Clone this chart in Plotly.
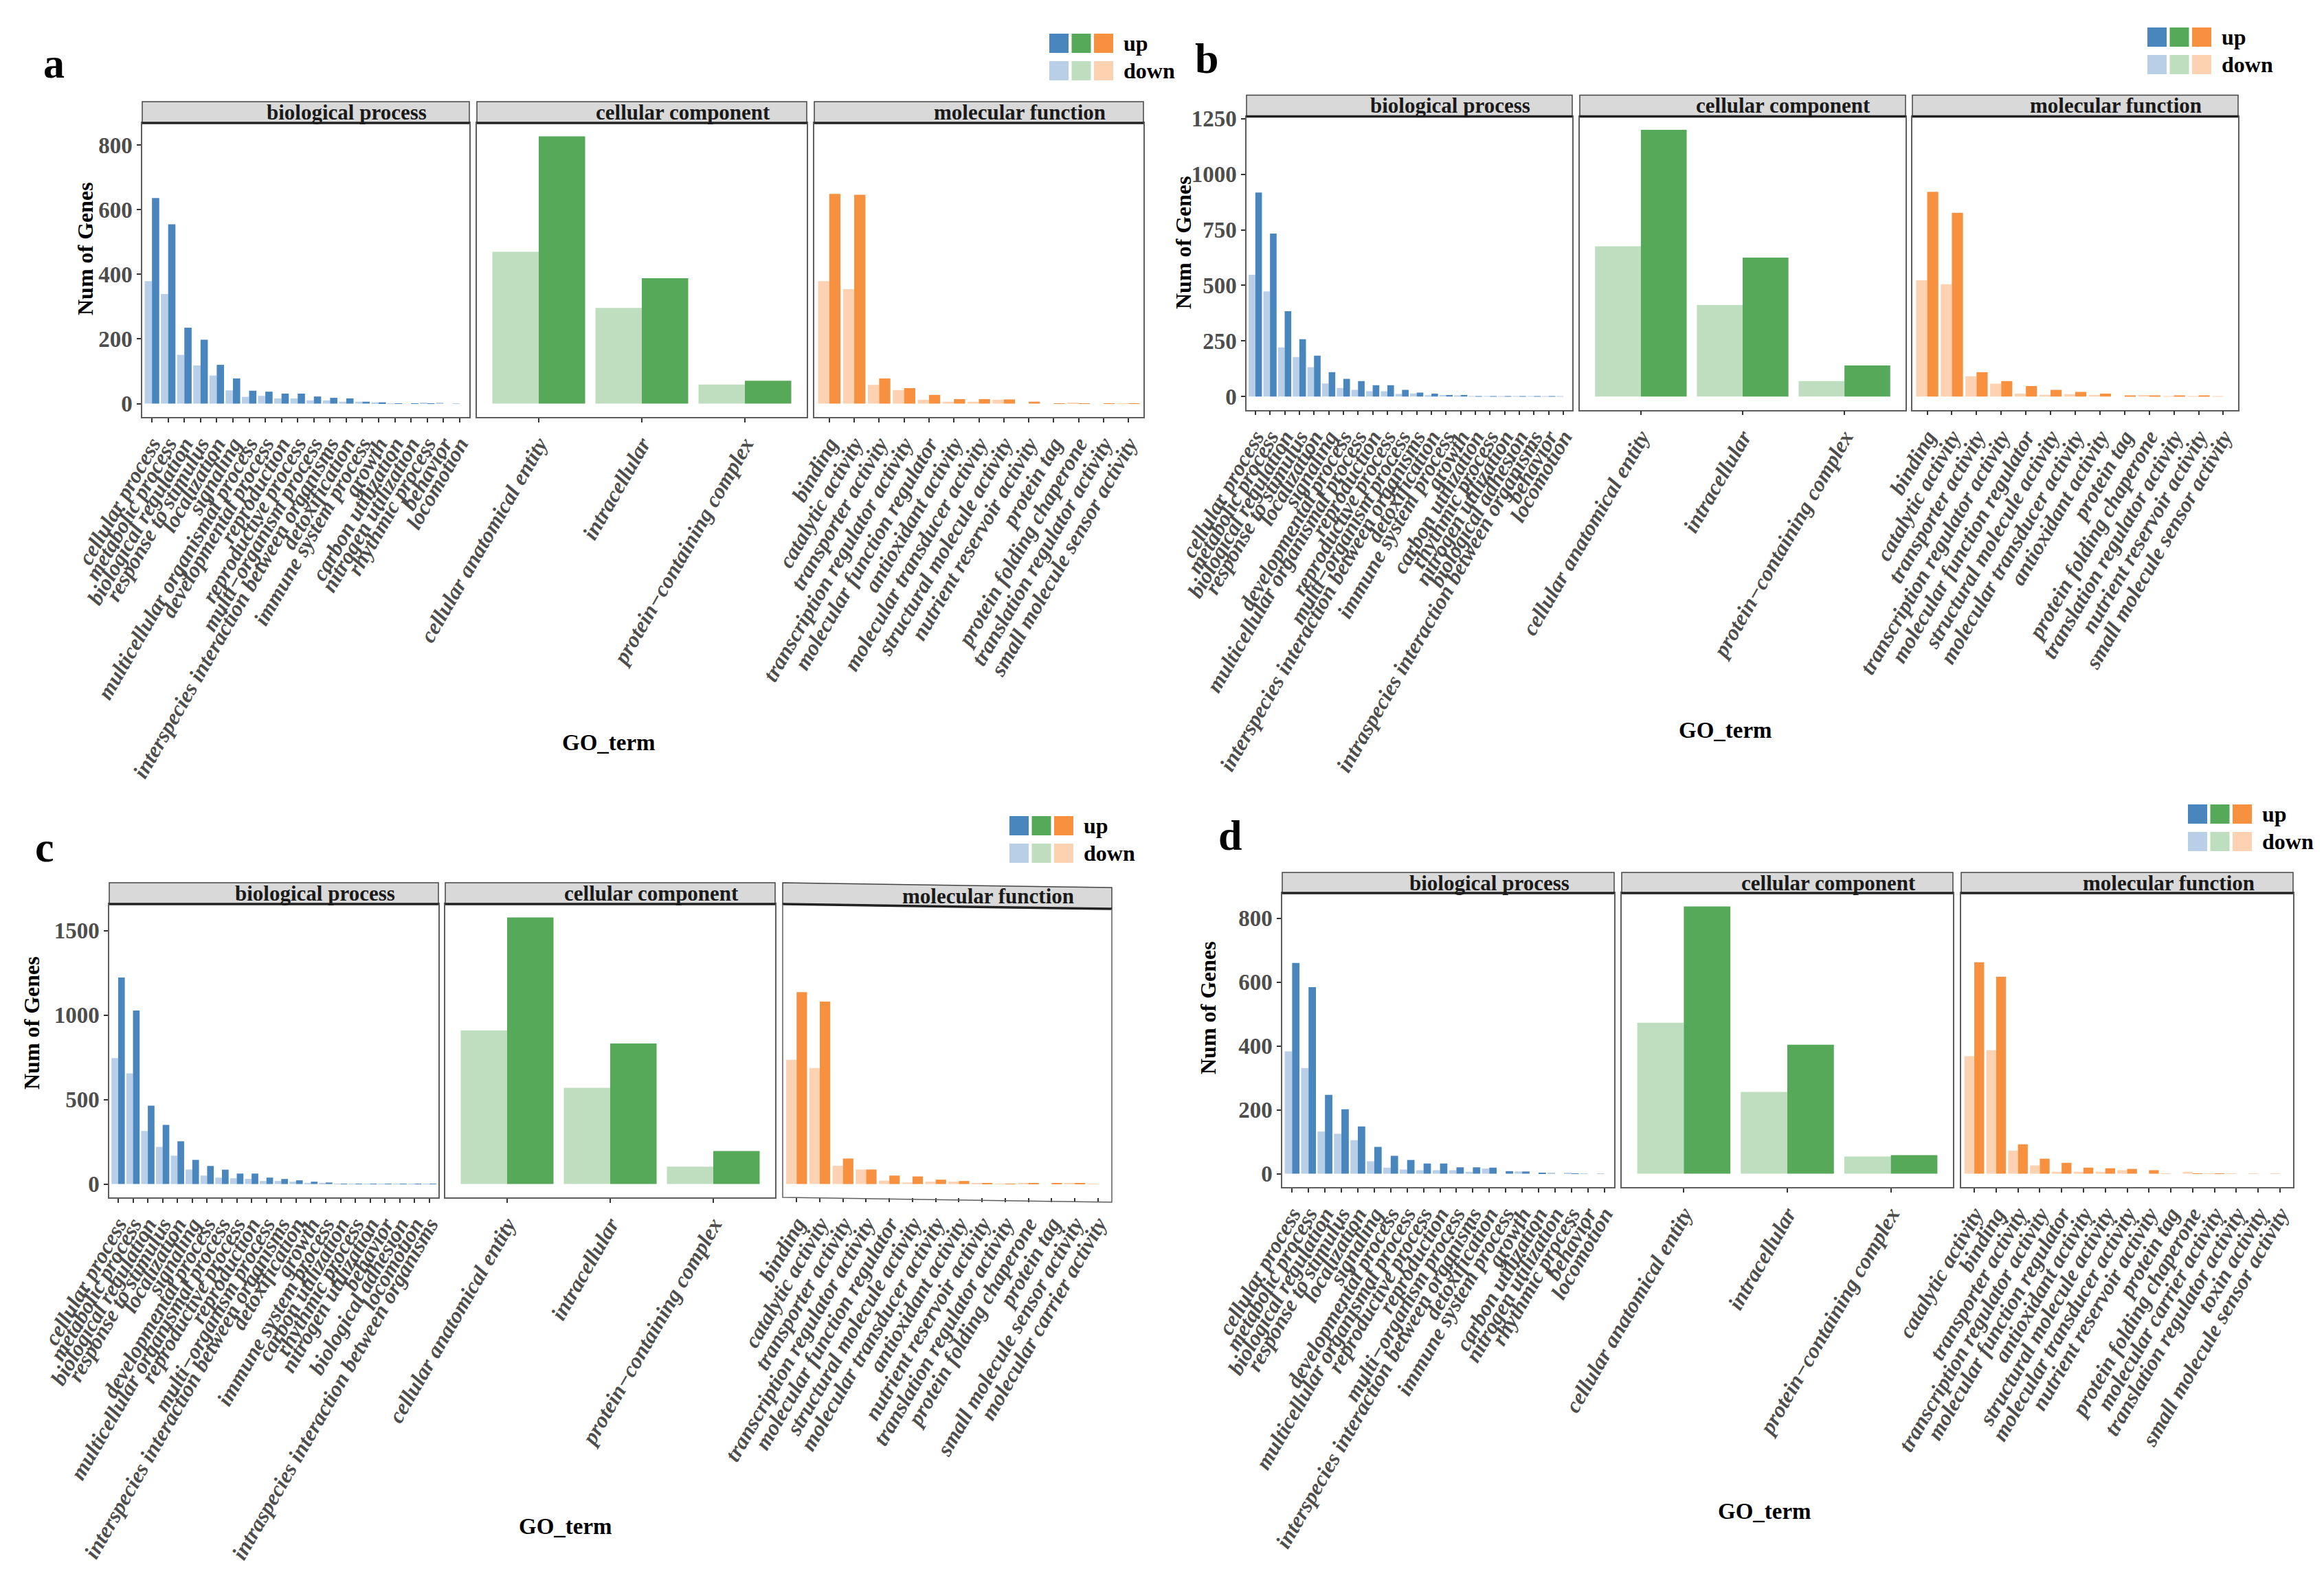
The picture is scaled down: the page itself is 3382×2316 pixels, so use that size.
import plotly.graph_objects as go

W, H = 3382, 2316

# ---------------- data ----------------
CC_TERMS = ["cellular anatomical entity", "intracellular", "protein\u2212containing complex"]

A_BP_TERMS = ["cellular process", "metabolic process", "biological regulation", "response to stimulus",
              "localization", "signaling", "multicellular organismal process", "developmental process",
              "reproduction", "reproductive process", "multi\u2212organism process",
              "interspecies interaction between organisms", "detoxification", "immune system process",
              "growth", "carbon utilization", "nitrogen utilization", "rhythmic process", "behavior", "locomotion"]
A_BP_DOWN = [379, 339, 151, 118, 87, 41, 21, 24, 16, 16, 10, 10, 6, 6, 4, 1, 0, 2, 2, 1]
A_BP_UP = [636, 555, 235, 198, 120, 78, 40, 37, 31, 31, 22, 18, 16, 6, 4, 1, 1, 1, 0, 0]
A_CC_DOWN = [470, 296, 59]
A_CC_UP = [827, 388, 71]
A_MF_TERMS = ["binding", "catalytic activity", "transporter activity", "transcription regulator activity",
              "molecular function regulator", "antioxidant activity", "molecular transducer activity",
              "structural molecule activity", "nutrient reservoir activity", "protein tag",
              "protein folding chaperone", "translation regulator activity", "small molecule sensor activity"]
A_MF_DOWN = [379, 354, 58, 42, 12, 6, 6, 12, 0, 0, 3, 0, 1]
A_MF_UP = [649, 646, 78, 48, 27, 14, 14, 13, 6, 1, 1, 1, 1]

B_BP_TERMS = ["cellular process", "metabolic process", "biological regulation", "response to stimulus",
              "localization", "signaling", "developmental process", "multicellular organismal process",
              "reproduction", "reproductive process", "multi\u2212organism process",
              "interspecies interaction between organisms", "detoxification", "immune system process",
              "growth", "carbon utilization", "rhythmic process", "nitrogen utilization", "biological adhesion",
              "intraspecies interaction between organisms", "behavior", "locomotion"]
B_BP_DOWN = [548, 473, 221, 178, 132, 59, 39, 30, 24, 24, 12, 14, 6, 7, 4, 2, 2, 2, 1, 1, 1, 1]
B_BP_UP = [918, 733, 384, 258, 184, 110, 80, 70, 51, 51, 30, 18, 13, 7, 7, 2, 2, 2, 2, 1, 1, 0]
B_CC_DOWN = [676, 412, 70]
B_CC_UP = [1200, 625, 140]
B_MF_TERMS = ["binding", "catalytic activity", "transporter activity", "transcription regulator activity",
              "molecular function regulator", "structural molecule activity", "molecular transducer activity",
              "antioxidant activity", "protein tag", "protein folding chaperone", "translation regulator activity",
              "nutrient reservoir activity", "small molecule sensor activity"]
B_MF_DOWN = [523, 505, 91, 58, 13, 8, 11, 7, 0, 7, 2, 2, 2]
B_MF_UP = [921, 827, 110, 70, 47, 30, 21, 13, 5, 3, 3, 3, 0]

C_BP_TERMS = ["cellular process", "metabolic process", "biological regulation", "response to stimulus",
              "localization", "signaling", "developmental process", "multicellular organismal process",
              "reproductive process", "reproduction", "multi\u2212organism process",
              "interspecies interaction between organisms", "detoxification", "growth", "immune system process",
              "carbon utilization", "rhythmic process", "nitrogen utilization", "behavior", "biological adhesion",
              "locomotion", "intraspecies interaction between organisms"]
C_BP_DOWN = [745, 655, 314, 220, 168, 86, 50, 38, 34, 31, 18, 18, 14, 7, 7, 2, 2, 1, 1, 1, 1, 1]
C_BP_UP = [1222, 1027, 464, 350, 253, 143, 107, 85, 62, 62, 38, 30, 22, 14, 9, 2, 2, 2, 1, 1, 1, 1]
C_CC_DOWN = [909, 569, 103]
C_CC_UP = [1578, 832, 196]
C_MF_TERMS = ["binding", "catalytic activity", "transporter activity", "transcription regulator activity",
              "molecular function regulator", "structural molecule activity", "molecular transducer activity",
              "antioxidant activity", "nutrient reservoir activity", "translation regulator activity",
              "protein folding chaperone", "protein tag", "small molecule sensor activity",
              "molecular carrier activity"]
C_MF_DOWN = [735, 686, 108, 86, 20, 9, 14, 14, 3, 1, 5, 0, 3, 1]
C_MF_UP = [1136, 1080, 151, 86, 50, 45, 26, 18, 5, 2, 3, 3, 3, 0]

D_BP_TERMS = ["cellular process", "metabolic process", "biological regulation", "response to stimulus",
              "localization", "signaling", "developmental process", "multicellular organismal process",
              "reproductive process", "reproduction", "multi\u2212organism process",
              "interspecies interaction between organisms", "detoxification", "immune system process",
              "growth", "carbon utilization", "nitrogen utilization", "rhythmic process", "behavior", "locomotion"]
D_BP_DOWN = [383, 331, 132, 125, 105, 39, 19, 13, 11, 11, 11, 6, 16, 0, 7, 0, 2, 2, 1, 1]
D_BP_UP = [660, 584, 247, 202, 148, 84, 56, 43, 32, 32, 20, 20, 19, 8, 7, 3, 0, 1, 0, 0]
D_CC_DOWN = [473, 256, 54]
D_CC_UP = [837, 404, 58]
D_MF_TERMS = ["catalytic activity", "binding", "transporter activity", "transcription regulator activity",
              "molecular function regulator", "antioxidant activity", "structural molecule activity",
              "molecular transducer activity", "nutrient reservoir activity", "protein tag",
              "protein folding chaperone", "molecular carrier activity", "translation regulator activity",
              "toxin activity", "small molecule sensor activity"]
D_MF_DOWN = [368, 387, 72, 26, 6, 6, 6, 11, 0, 1, 6, 1, 1, 1, 1]
D_MF_UP = [662, 617, 92, 47, 34, 19, 17, 15, 11, 0, 1, 1, 0, 0, 0]

A_YTICKS = [0, 200, 400, 600, 800]
B_YTICKS = [0, 250, 500, 750, 1000, 1250]
C_YTICKS = [0, 500, 1000, 1500]
D_YTICKS = [0, 200, 400, 600, 800]

FACETS = ["biological process", "cellular component", "molecular function"]
LEGEND_LABELS = ["up", "down"]

# ---------------- style ----------------
UP_COLORS = ["#4A86BE", "#57A95A", "#F7903F"]
DOWN_COLORS = ["#B9CFE7", "#BFDDBF", "#FCD2B2"]
SERIF = "Liberation Serif"
GREY30 = "#4D4D4D"
BORDER = "#5E5E5E"

PANELS = [
    dict(letter="a", data=[(A_BP_TERMS, A_BP_DOWN, A_BP_UP), (CC_TERMS, A_CC_DOWN, A_CC_UP),
                           (A_MF_TERMS, A_MF_DOWN, A_MF_UP)], yticks=A_YTICKS,
         cols=[(207, 683), (694, 1174), (1185, 1664)], strip=148, top=179, bottom=607,
         ytitle=(124, 362), goterm=(886, 1081), lpos=(78, 92), legend=(1527, 49), skew=None),
    dict(letter="b", data=[(B_BP_TERMS, B_BP_DOWN, B_BP_UP), (CC_TERMS, B_CC_DOWN, B_CC_UP),
                           (B_MF_TERMS, B_MF_DOWN, B_MF_UP)], yticks=B_YTICKS,
         cols=[(1814, 2288), (2299, 2773), (2783, 3257)], strip=138.5, top=169.5, bottom=596.7,
         ytitle=(1722, 353), goterm=(2511, 1063), lpos=(1756, 85), legend=(3125, 40), skew=None),
    dict(letter="c", data=[(C_BP_TERMS, C_BP_DOWN, C_BP_UP), (CC_TERMS, C_CC_DOWN, C_CC_UP),
                           (C_MF_TERMS, C_MF_DOWN, C_MF_UP)], yticks=C_YTICKS,
         cols=[(159, 638), (648, 1128), (1139, 1618)], strip=1285, top=1316, bottom=1743,
         ytitle=(46, 1489), goterm=(823, 2222), lpos=(65, 1233), legend=(1469, 1188), skew=(2, 7)),
    dict(letter="d", data=[(D_BP_TERMS, D_BP_DOWN, D_BP_UP), (CC_TERMS, D_CC_DOWN, D_CC_UP),
                           (D_MF_TERMS, D_MF_DOWN, D_MF_UP)], yticks=D_YTICKS,
         cols=[(1866, 2349), (2360, 2842), (2854, 3337)], strip=1270, top=1300, bottom=1728,
         ytitle=(1758, 1467), goterm=(2568, 2200), lpos=(1790, 1216), legend=(3184, 1171), skew=None),
]


def px(x):
    return x / W


def py(y):
    return 1 - y / H


def pt(x, y):
    return f"{px(x):.6f},{py(y):.6f}"


fig = go.Figure()
layout = dict(width=W, height=H, margin=dict(l=0, r=0, t=0, b=0, autoexpand=False), paper_bgcolor="white",
              plot_bgcolor="white", barmode="group", bargap=0.1, bargroupgap=0, showlegend=False,
              template="none")
shapes = []
annotations = []

k = 0
for p in PANELS:
    ymax = max(max(d[1] + d[2]) for d in p["data"])
    yr = [-0.05 * ymax, 1.05 * ymax]
    for f, (terms, down, up) in enumerate(p["data"]):
        k += 1
        xa = "x" if k == 1 else f"x{k}"
        ya = "y" if k == 1 else f"y{k}"
        fig.add_trace(go.Bar(x=terms, y=down, marker=dict(color=DOWN_COLORS[f], line=dict(width=0)),
                             xaxis=xa, yaxis=ya, name="down"))
        fig.add_trace(go.Bar(x=terms, y=up, marker=dict(color=UP_COLORS[f], line=dict(width=0)),
                             xaxis=xa, yaxis=ya, name="up"))
        x0, x1 = p["cols"][f]
        n = len(terms)
        skewed = p["skew"] is not None and p["skew"][0] == f
        sk = p["skew"][1] if skewed else 0
        layout["xaxis" if k == 1 else f"xaxis{k}"] = dict(
            domain=[px(x0), px(x1)], anchor=ya, type="category", range=[-0.6, n - 0.4],
            tickmode="array", tickvals=terms, ticktext=terms, automargin=False,
            tickangle=-60, ticks="outside", ticklen=6, tickwidth=1.5, tickcolor="#333333",
            showline=not skewed, mirror=True, linecolor=BORDER, linewidth=1.5, showgrid=False,
            zeroline=False, fixedrange=True,
            tickfont=dict(family=SERIF, size=32, color=GREY30, weight="bold", style="italic"))
        yd = dict(domain=[py(p["bottom"]), py(p["top"])], anchor=xa, range=yr, showgrid=False,
                  zeroline=False, showline=not skewed, mirror=True, linecolor=BORDER, linewidth=1.5,
                  fixedrange=True, automargin=False)
        if f == 0:
            yd.update(tickmode="array", tickvals=p["yticks"], ticks="outside", ticklen=6, tickwidth=1.5,
                      tickcolor="#333333",
                      tickfont=dict(family=SERIF, size=33, color=GREY30, weight="bold"))
        else:
            yd.update(showticklabels=False, ticks="")
        layout["yaxis" if k == 1 else f"yaxis{k}"] = yd

        st, tp, bt = p["strip"], p["top"], p["bottom"]
        if skewed:
            # slanted strip / frame, as rendered in the reference
            shapes.append(dict(type="path", xref="paper", yref="paper",
                               path=f"M{pt(x0, st)} L{pt(x1, st + sk)} L{pt(x1, tp + sk)} L{pt(x0, tp)} Z",
                               fillcolor="#D9D9D9", line=dict(color="#444444", width=1.5), layer="above"))
            shapes.append(dict(type="path", xref="paper", yref="paper",
                               path=f"M{pt(x0, tp)} L{pt(x1, tp + sk)}",
                               line=dict(color="#222222", width=3.5), layer="above"))
            shapes.append(dict(type="path", xref="paper", yref="paper",
                               path=f"M{pt(x0, tp)} L{pt(x0, bt)} L{pt(x1, bt + sk)} L{pt(x1, tp + sk)}",
                               line=dict(color=BORDER, width=1.5), layer="above"))
        else:
            shapes.append(dict(type="rect", xref="paper", yref="paper", x0=px(x0), x1=px(x1),
                               y0=py(tp), y1=py(st), fillcolor="#D9D9D9",
                               line=dict(color="#444444", width=1.5), layer="above"))
            shapes.append(dict(type="line", xref="paper", yref="paper", x0=px(x0), x1=px(x1),
                               y0=py(tp), y1=py(tp), line=dict(color="#222222", width=3.5),
                               layer="above"))
        annotations.append(dict(xref="paper", yref="paper", x=px(x0 + 0.625 * (x1 - x0)),
                                y=py((st + tp) / 2 + sk * 0.6), text=FACETS[f], showarrow=False,
                                xanchor="center", yanchor="middle",
                                font=dict(family=SERIF, size=31, color="#1A1A1A", weight="bold")))

    # titles
    annotations.append(dict(xref="paper", yref="paper", x=px(p["ytitle"][0]), y=py(p["ytitle"][1]),
                            text="Num of Genes", textangle=-90, showarrow=False, xanchor="center",
                            yanchor="middle", font=dict(family=SERIF, size=32, color="black", weight="bold")))
    annotations.append(dict(xref="paper", yref="paper", x=px(p["goterm"][0]), y=py(p["goterm"][1]),
                            text="GO_term", showarrow=False, xanchor="center", yanchor="middle",
                            font=dict(family=SERIF, size=33, color="black", weight="bold")))
    annotations.append(dict(xref="paper", yref="paper", x=px(p["lpos"][0]), y=py(p["lpos"][1]),
                            text=p["letter"], showarrow=False, xanchor="center", yanchor="middle",
                            font=dict(family=SERIF, size=62, color="black", weight="bold")))
    # legend
    lx, ly = p["legend"]
    for r, (label, cols) in enumerate(zip(LEGEND_LABELS, [UP_COLORS, DOWN_COLORS])):
        yy = ly + r * 40
        for c, col in enumerate(cols):
            xx = lx + c * 32.5
            shapes.append(dict(type="rect", xref="paper", yref="paper", x0=px(xx), x1=px(xx + 28),
                               y0=py(yy + 28), y1=py(yy), fillcolor=col, line=dict(width=0)))
        annotations.append(dict(xref="paper", yref="paper", x=px(lx + 3 * 32.5 + 8), y=py(yy + 14),
                                text=label, showarrow=False, xanchor="left", yanchor="middle",
                                font=dict(family=SERIF, size=32, color="black", weight="bold")))

layout["shapes"] = shapes
layout["annotations"] = annotations
fig.update_layout(**layout)
fig.write_html("out.html", config={"displayModeBar": False},
               post_script="document.body.style.margin='0';")
